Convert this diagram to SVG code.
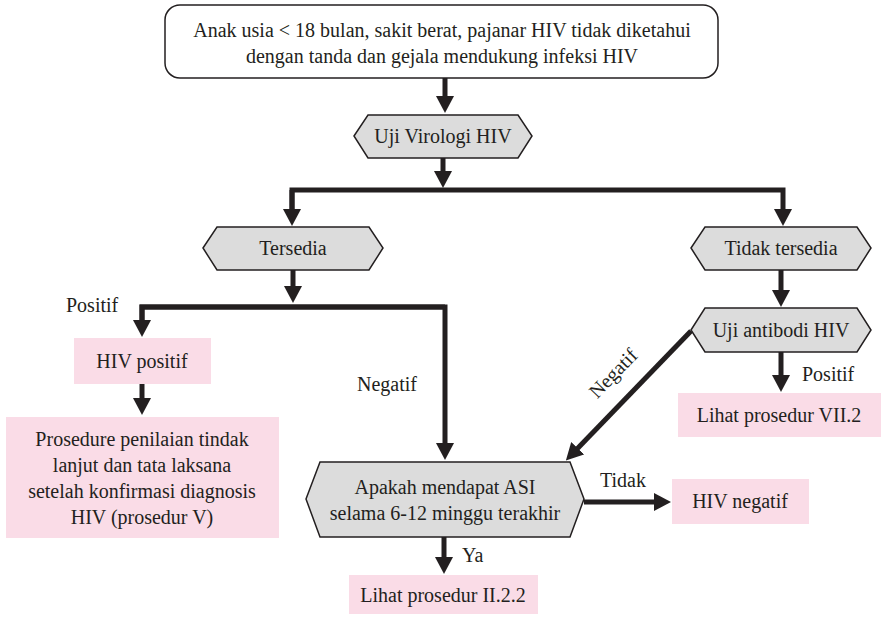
<svg xmlns="http://www.w3.org/2000/svg" width="881" height="617" viewBox="0 0 881 617">
<defs>
<marker id="ah" viewBox="0 0 17 18" refX="1" refY="9" markerWidth="17" markerHeight="18" markerUnits="userSpaceOnUse" orient="auto">
<path d="M0,0 L17,9 L0,18 z" fill="#231f20"/>
</marker>
<style>
text{font-family:'Liberation Serif','DejaVu Serif',serif;font-size:20px;fill:#231f20}
.t{text-anchor:middle}
.hex{fill:#dcdcdc;stroke:#231f20;stroke-width:1.5}
.pink{fill:#fadce7}
.c{fill:none;stroke:#231f20;stroke-width:5;stroke-linejoin:miter}
</style>
</defs>
<rect width="881" height="617" fill="#ffffff"/>

<g id="connectors">
<path class="c" d="M445,78 V97" marker-end="url(#ah)"/>
<path class="c" d="M443,158 V172" marker-end="url(#ah)"/>
<path class="c" d="M292,210 V190 H783 V210" marker-end="url(#ah)"/>
<path class="c" d="M292,190 V210" marker-end="url(#ah)"/>
<path class="c" d="M293,268 V287" marker-end="url(#ah)"/>
<path class="c" d="M142,321 V307 H445 V444" marker-end="url(#ah)"/>
<path class="c" d="M445,307 H142 V321" marker-end="url(#ah)"/>
<path class="c" d="M142,384 V399" marker-end="url(#ah)"/>
<path class="c" d="M781,268 V291" marker-end="url(#ah)"/>
<path class="c" d="M781,352 V376" marker-end="url(#ah)"/>
<path class="c" d="M691,331 L577,449" marker-end="url(#ah)"/>
<path class="c" d="M584,502 H655" marker-end="url(#ah)"/>
<path class="c" d="M444,537 V558" marker-end="url(#ah)"/>
<text x="66" y="312">Positif</text>
<text x="357" y="391">Negatif</text>
<text x="802" y="381">Positif</text>
<text x="600" y="487">Tidak</text>
<text x="462" y="562">Ya</text>
<text class="t" transform="translate(618,378) rotate(-46)">Negatif</text>
</g>

<g id="start">
<rect x="165" y="5" width="553" height="73" rx="15" ry="15" fill="#ffffff" stroke="#231f20" stroke-width="1.5"/>
<text class="t" x="442" y="37">Anak usia &lt; 18 bulan, sakit berat, pajanar HIV tidak diketahui</text>
<text class="t" x="442" y="63">dengan tanda dan gejala mendukung infeksi HIV</text>
</g>

<g id="uji-virologi">
<polygon class="hex" points="354,136 368,115 518,115 532,136 518,158 368,158"/>
<text class="t" x="443" y="143">Uji Virologi HIV</text>
</g>

<g id="tersedia">
<polygon class="hex" points="203,248 217,227 369,227 383,248 369,270 217,270"/>
<text class="t" x="293" y="255">Tersedia</text>
</g>

<g id="tidak-tersedia">
<polygon class="hex" points="691,248 705,227 857,227 871,248 857,270 705,270"/>
<text class="t" x="781" y="255">Tidak tersedia</text>
</g>

<g id="uji-antibodi">
<polygon class="hex" points="691,330 705,308 857,308 871,330 857,352 705,352"/>
<text class="t" x="781" y="337">Uji antibodi HIV</text>
</g>

<g id="hiv-positif">
<rect class="pink" x="74" y="338" width="137" height="46"/>
<text class="t" x="142" y="368">HIV positif</text>
</g>

<g id="prosedure-v">
<rect class="pink" x="6" y="417" width="273" height="121"/>
<text class="t" x="142" y="446">Prosedure penilaian tindak</text>
<text class="t" x="142" y="472">lanjut dan tata laksana</text>
<text class="t" x="142" y="498">setelah konfirmasi diagnosis</text>
<text class="t" x="142" y="524">HIV (prosedur V)</text>
</g>

<g id="lihat-vii2">
<rect class="pink" x="678" y="393" width="203" height="44"/>
<text class="t" x="779" y="422">Lihat prosedur VII.2</text>
</g>

<g id="apakah-asi">
<polygon class="hex" points="306,499 320,462 570,462 584,499 570,537 320,537"/>
<text class="t" x="445" y="494">Apakah mendapat ASI</text>
<text class="t" x="445" y="520">selama 6-12 minggu terakhir</text>
</g>

<g id="hiv-negatif">
<rect class="pink" x="672" y="479" width="137" height="45"/>
<text class="t" x="740" y="508">HIV negatif</text>
</g>

<g id="lihat-ii22">
<rect class="pink" x="349" y="575" width="189" height="39"/>
<text class="t" x="443" y="602">Lihat prosedur II.2.2</text>
</g>
</svg>
